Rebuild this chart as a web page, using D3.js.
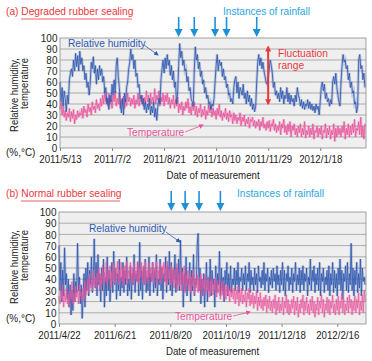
<!DOCTYPE html>
<html>
<head>
<meta charset="utf-8">
<script src="https://cdn.jsdelivr.net/npm/d3@7"></script>
<style>
  body { margin: 0; background: #fff; }
  svg { display: block; font-family: "Liberation Sans", Arial, Helvetica, sans-serif; }
</style>
</head>
<body>
<script>
// ---- data (one sample per day) ----
const startA = "2011-05-13"
const ticksA = ["2011-05-13", "2011-07-02", "2011-08-21", "2011-10-10", "2011-11-29", "2012-01-18"]
const rainA = ["2011-09-04", "2011-09-19", "2011-10-09", "2011-10-20", "2011-11-18"]
const humidityA = [
  60,42,55,38,52,45,33,48,40,62, 68,72,65,80,70,86,74,84,70,88,
  76,82,70,75,62,68,55,60,48,58, 78,72,83,68,75,58,72,62,75,66,
  72,60,65,50,55,40,45,35,48,42, 58,48,62,50,75,82,65,55,40,32,
  45,30,50,42,55,60,72,78,90,80, 85,72,80,65,68,55,58,45,48,40,
  45,35,42,32,40,35,45,30,38,32, 42,28,36,25,38,45,40,62,72,80,
  68,82,72,85,75,80,66,75,62,70, 55,60,40,50,75,95,82,88,75,80,
  70,72,60,65,52,55,45,42,38,70, 92,80,85,72,78,65,70,58,62,50,
  55,45,48,40,42,35,40,38,45,60, 75,85,70,80,75,78,65,72,62,65,
  55,58,48,50,42,45,40,55,62,65, 50,60,45,55,52,48,58,45,50,40,
  52,42,48,38,45,35,40,33,38,60, 78,85,75,82,72,78,70,65,60,58,
  65,72,80,75,68,55,60,48,52,45, 50,42,55,45,52,40,48,45,55,42,
  50,40,48,42,45,38,48,42,55,48, 45,38,44,36,42,35,40,38,44,36,
  42,35,40,34,38,32,40,35,38,30, 42,55,60,52,58,45,50,42,45,38,
  44,40,60,65,58,68,55,48,42,38, 60,75,85,78,80,72,75,62,68,55,
  60,50,52,40,42,32,38,80,85,72, 75,62,68,55
]
const temperatureA = [
  35,42,30,38,28,34,25,32,28,36, 24,33,27,35,22,30,26,34,28,32,
  30,36,27,38,32,35,28,40,33,37, 30,42,35,38,32,44,36,40,34,45,
  38,48,40,52,42,46,38,50,40,44, 36,48,42,52,38,45,40,50,36,44,
  40,47,36,44,38,50,42,46,38,45, 40,48,36,44,40,50,38,46,42,48,
  38,46,40,52,42,48,38,50,40,46, 42,54,40,48,44,52,38,46,42,50,
  38,48,42,50,40,46,36,44,40,48, 36,44,38,46,32,40,35,42,30,38,
  34,42,36,45,32,38,30,40,34,42, 30,38,28,36,32,40,28,35,30,38,
  26,34,30,40,32,38,28,36,30,34, 26,36,30,40,28,34,25,32,28,36,
  26,32,24,34,28,30,22,32,25,30, 22,28,25,32,20,28,24,30,20,26,
  22,28,18,26,24,28,20,25,18,24, 20,26,16,24,20,28,18,22,16,24,
  18,25,15,22,20,26,16,22,14,20, 16,24,12,22,18,26,14,20,12,22,
  15,24,10,20,16,22,12,18,10,20, 14,22,10,18,12,24,9,16,12,20,
  10,18,12,22,8,16,14,20,10,18, 12,20,8,16,14,22,9,18,12,20,
  8,16,12,22,6,18,10,20,12,18, 10,20,14,24,8,18,12,22,10,20,
  12,22,14,26,10,18,16,24,12,28, 10,20,8,22
]

const startB = "2011-04-22"
const ticksB = ["2011-04-22", "2011-06-21", "2011-08-20", "2011-10-19", "2011-12-18", "2012-02-16"]
const rainB = ["2011-08-21", "2011-09-05", "2011-09-20", "2011-10-13"]
const humidityB = [
  70,30,55,20,48,25,68,35,45,22, 40,15,35,8,30,12,45,20,38,28,
  72,30,42,18,35,5,25,45,15,50, 30,55,25,48,35,60,28,40,76,32,
  55,25,62,35,45,20,50,30,58,15, 42,25,60,30,48,20,38,55,28,65,
  35,50,22,45,30,58,25,42,32,55, 28,48,35,60,25,40,30,52,22,45,
  35,62,28,45,38,55,25,73,30,48, 22,50,35,58,28,42,30,60,25,45,
  38,55,28,48,32,62,25,40,35,58, 30,50,22,45,38,60,28,52,35,65,
  30,55,25,48,40,62,28,50,35,58, 30,75,35,50,15,45,30,60,25,40,
  35,55,20,48,30,62,25,40,35,70, 81,30,50,18,40,25,45,15,35,55,
  20,42,30,58,25,48,35,40,15,52, 28,45,35,65,25,50,30,42,20,48,
  35,55,25,45,30,52,28,40,35,50, 30,48,35,55,28,42,38,50,30,45,
  35,52,30,45,38,55,28,48,35,42, 30,50,35,45,28,52,38,42,32,48,
  35,55,30,45,38,50,28,42,35,48, 32,50,38,45,30,52,35,44,28,48,
  35,55,30,48,25,45,38,52,30,42, 35,50,28,45,38,55,30,44,35,50,
  28,48,35,52,30,45,38,50,25,42, 35,58,30,48,38,52,28,45,35,50,
  30,55,25,45,38,50,28,42,35,48, 30,52,25,45,35,55,28,48,32,45,
  25,50,35,58,30,48,22,45,38,52, 30,55,28,45,35,72,30,50,25,48,
  35,55,28,45,32,58,25,50,38,42, 35
]
const temperatureB = [
  25,18,30,22,35,15,28,20,32,18, 26,15,30,22,38,18,28,20,34,24,
  30,18,35,25,28,20,32,22,38,26, 30,40,28,45,32,38,30,48,35,42,
  32,45,38,50,30,44,36,52,34,46, 38,55,35,48,40,52,32,46,38,54,
  36,50,42,56,35,48,40,55,38,50, 34,52,40,56,36,48,42,55,38,50,
  35,54,40,48,38,56,36,50,42,55, 38,52,35,56,40,48,36,54,42,50,
  38,55,36,50,42,56,35,48,40,54, 36,52,42,55,38,50,34,56,40,48,
  35,52,38,50,32,48,36,54,30,45, 34,50,30,46,36,52,28,44,34,48,
  30,45,28,42,34,48,26,40,32,44, 28,42,30,45,25,40,32,44,26,38,
  30,42,24,38,28,40,26,36,30,42, 24,36,28,40,22,35,26,38,24,34,
  22,35,26,32,20,34,24,30,22,32, 18,30,22,34,16,28,20,32,18,26,
  20,30,15,28,22,32,16,26,18,28, 14,25,18,30,12,24,16,28,14,22,
  12,24,16,26,10,22,14,25,12,20, 10,22,14,26,8,20,12,24,10,18,
  12,24,8,20,14,26,10,22,8,18, 10,22,14,25,8,20,12,24,6,18,
  10,22,14,26,8,20,12,24,10,18, 8,22,12,25,10,20,6,18,12,24,
  8,20,14,26,10,22,6,18,12,24, 10,22,8,20,14,26,10,18,8,22,
  12,25,8,20,14,28,10,22,8,18, 12,24,10,26,14,22,8,20,12,25,
  10,22,14,28,8,20,12,26,10,30, 20
]
const yTicks = [0, 10, 20, 30, 40, 50, 60, 70, 80, 90, 100]

const parse = d3.timeParse("%Y-%m-%d")
const fmt = d => `${d.getFullYear()}/${d.getMonth() + 1}/${d.getDate()}`

const blue = "#3059b0"
const pink = "#e9559c"
const red = "#e8383d"
const sky = "#1e90d8"
const ink = "#222"
const squeeze = "scale(0.86,1)"   // axis texts in the picture are condensed

const svg = d3.select("body").append("svg")
  .attr("width", 372)
  .attr("height", 361)

const defs = svg.append("defs")
const marker = (id, color, w, h) => {
  defs.append("marker")
    .attr("id", id)
    .attr("viewBox", "0 0 10 10")
    .attr("refX", 8).attr("refY", 5)
    .attr("markerWidth", w).attr("markerHeight", h)
    .attr("orient", "auto-start-reverse")
    .append("path")
    .attr("d", "M0,0 L10,5 L0,10 z")
    .attr("fill", color)
}
marker("hBlue", blue, 6, 6)
marker("hPink", pink, 6, 6)
marker("hRed", red, 3.2, 3)

const panel = cfg => {
  const g = svg.append("g").attr("transform", `translate(0,${cfg.top})`)
  const start = parse(cfg.start)
  const x = d3.scaleTime()
    .domain([start, d3.timeDay.offset(start, cfg.days)])
    .range([cfg.left, 366])
  const y = d3.scaleLinear().domain([0, 100]).range([cfg.plotBottom, cfg.plotTop])

  // title
  g.append("text")
    .attr("x", 6).attr("y", cfg.titleY)
    .attr("fill", red).attr("font-size", 10.2)
    .text(cfg.title)
  g.append("line")
    .attr("x1", 21).attr("x2", cfg.underline)
    .attr("y1", cfg.titleY + 4).attr("y2", cfg.titleY + 4)
    .attr("stroke", red).attr("stroke-width", 0.8)

  // plot background + grid
  g.append("rect")
    .attr("x", cfg.left).attr("y", cfg.plotTop)
    .attr("width", 366 - cfg.left).attr("height", cfg.plotBottom - cfg.plotTop)
    .attr("fill", "#efefef")
  g.selectAll("line.grid")
    .data(yTicks.slice(1, -1))
    .enter().append("line")
    .attr("class", "grid")
    .attr("x1", cfg.left).attr("x2", 366)
    .attr("y1", d => y(d)).attr("y2", d => y(d))
    .attr("stroke", "#9a9a9a").attr("stroke-width", 0.8)

  // series
  const dayLine = d3.line()
    .x((d, i) => x(d3.timeDay.offset(start, i)))
    .y(d => y(d))
  const series = [[cfg.hum, blue, 1], [cfg.temp, pink, cfg.pinkOpacity]]
  if (cfg.blueOnTop) series.reverse()
  series.forEach(([vals, col, op]) => {
    g.append("path")
      .datum(vals)
      .attr("d", dayLine)
      .attr("fill", "none")
      .attr("stroke", col)
      .attr("stroke-width", 2.8)
      .attr("stroke-opacity", 0.25)
    g.append("path")
      .datum(vals)
      .attr("d", dayLine)
      .attr("fill", "none")
      .attr("stroke", col)
      .attr("stroke-opacity", op)
      .attr("stroke-width", 0.85)
  })

  // frame
  g.append("rect")
    .attr("x", cfg.left).attr("y", cfg.plotTop)
    .attr("width", 366 - cfg.left).attr("height", cfg.plotBottom - cfg.plotTop)
    .attr("fill", "none").attr("stroke", "#8a8a8a").attr("stroke-width", 0.8)

  // axes
  const yAxis = g.append("g")
    .attr("transform", `translate(${cfg.left},0)`)
    .call(d3.axisLeft(y).tickValues(yTicks).tickSize(0).tickPadding(3))
  yAxis.select(".domain").remove()
  yAxis.selectAll("text").attr("font-size", 11.6).attr("fill", ink).attr("transform", squeeze)

  const xAxis = g.append("g")
    .attr("transform", `translate(0,${cfg.plotBottom})`)
    .call(d3.axisBottom(x).tickValues(cfg.ticks.map(parse)).tickFormat(fmt).tickSize(3).tickPadding(3.5))
  xAxis.select(".domain").remove()
  xAxis.selectAll("line").attr("stroke", "#888")
  xAxis.selectAll("text").attr("font-size", 11.3).attr("fill", ink).attr("transform", squeeze)

  g.append("text")
    .attr("transform", `translate(${(cfg.left + 366) / 2},${cfg.plotBottom + 31}) ${squeeze}`)
    .attr("text-anchor", "middle").attr("font-size", 11.3).attr("fill", ink)
    .text("Date of measurement")

  // y label
  const yl = g.append("text")
    .attr("transform", `translate(0,${cfg.labelTop}) rotate(-90) ${squeeze}`)
    .attr("text-anchor", "end").attr("font-size", 11).attr("fill", ink)
  yl.append("tspan").attr("x", 0).attr("y", 18).text("Relative humidity,")
  yl.append("tspan").attr("x", 0).attr("y", 28.5).text("temperature")
  g.append("text")
    .attr("transform", `translate(6,${cfg.unitY}) ${squeeze}`)
    .attr("font-size", 11.6).attr("fill", ink)
    .text("(%,°C)")

  // rainfall
  g.append("text")
    .attr("x", cfg.rainX).attr("y", cfg.titleY)
    .attr("fill", "#2aa6e0").attr("font-size", 10.1)
    .text("Instances of rainfall")
  cfg.rain.map(parse).forEach(d => {
    const ax = x(d)
    g.append("line")
      .attr("x1", ax).attr("x2", ax)
      .attr("y1", cfg.plotTop - 21).attr("y2", cfg.plotTop - 8)
      .attr("stroke", sky).attr("stroke-width", 1.6)
    g.append("path")
      .attr("d", `M${ax - 4},${cfg.plotTop - 9} L${ax + 4},${cfg.plotTop - 9} L${ax},${cfg.plotTop - 1} z`)
      .attr("fill", sky)
  })

  // annotations
  const a = cfg.notes
  g.append("text")
    .attr("x", a.rh[0]).attr("y", a.rh[1])
    .attr("fill", blue).attr("font-size", 10.2)
    .text("Relative humidity")
  g.append("line")
    .attr("x1", a.rhArrow[0]).attr("y1", a.rhArrow[1])
    .attr("x2", a.rhArrow[2]).attr("y2", a.rhArrow[3])
    .attr("stroke", blue).attr("stroke-width", 0.8)
    .attr("marker-end", "url(#hBlue)")
  g.append("text")
    .attr("x", a.tp[0]).attr("y", a.tp[1])
    .attr("fill", pink).attr("font-size", 10.2)
    .text("Temperature")
  g.append("line")
    .attr("x1", a.tpArrow[0]).attr("y1", a.tpArrow[1])
    .attr("x2", a.tpArrow[2]).attr("y2", a.tpArrow[3])
    .attr("stroke", pink).attr("stroke-width", 0.8)
    .attr("marker-end", "url(#hPink)")

  return {x, y, g}
}

const pa = panel({
  top: 0, title: "(a) Degraded rubber sealing", titleY: 15, underline: 132,
  start: startA, days: 294, left: 60, plotTop: 38, plotBottom: 148,
  ticks: ticksA, rain: rainA, rainX: 223, labelTop: 58, unitY: 156,
  hum: humidityA, temp: temperatureA, blueOnTop: true, pinkOpacity: 1,
  notes: {rh: [68, 47], rhArrow: [144, 45, 158, 55], tp: [127, 136], tpArrow: [185, 132, 203, 125]}
})

// fluctuation range (panel a)
const fx = pa.x(parse("2011-11-29"))
pa.g.append("line")
  .attr("x1", fx).attr("x2", fx)
  .attr("y1", pa.y(40)).attr("y2", pa.y(92))
  .attr("stroke", red).attr("stroke-width", 2)
  .attr("marker-start", "url(#hRed)")
  .attr("marker-end", "url(#hRed)")
pa.g.append("text")
  .attr("fill", red).attr("font-size", 10.2)
  .selectAll("tspan")
  .data(["Fluctuation", "range"])
  .enter().append("tspan")
  .attr("x", 278).attr("y", (d, i) => 57 + i * 12)
  .text(d => d)

panel({
  top: 180, title: "(b) Normal rubber sealing", titleY: 17, underline: 120,
  start: startB, days: 331, left: 59, plotTop: 32, plotBottom: 144,
  ticks: ticksB, rain: rainB, rainX: 237, labelTop: 50, unitY: 142,
  hum: humidityB, temp: temperatureB, blueOnTop: false, pinkOpacity: 0.8,
  notes: {rh: [89, 52], rhArrow: [166, 52, 180, 62], tp: [175, 140], tpArrow: [233, 136, 250, 132]}
})
</script>
</body>
</html>
